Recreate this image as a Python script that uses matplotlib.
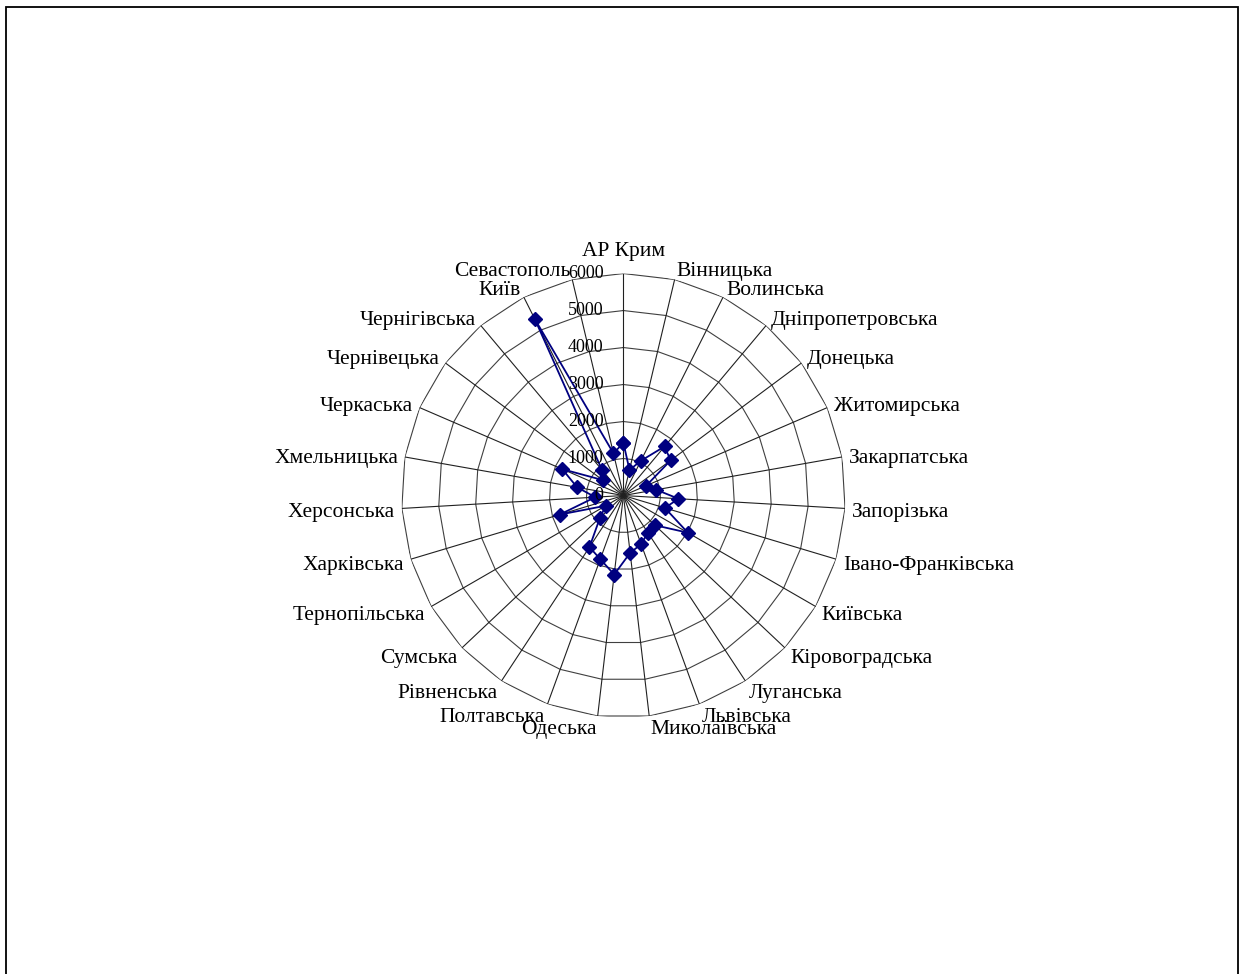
import numpy as np
import matplotlib
matplotlib.use('Agg')
import matplotlib.pyplot as plt
from matplotlib.patches import Rectangle

# categories (regions), clockwise from top
regions = ['АР Крим', 'Вінницька', 'Волинська', 'Дніпропетровська', 'Донецька',
           'Житомирська', 'Закарпатська', 'Запорізька', 'Івано-Франківська',
           'Київська', 'Кіровоградська', 'Луганська', 'Львівська', 'Миколаївська',
           'Одеська', 'Полтавська', 'Рівненська', 'Сумська', 'Тернопільська',
           'Харківська', 'Херсонська', 'Хмельницька', 'Черкаська', 'Чернівецька',
           'Чернігівська', 'Київ', 'Севастополь']

# values
values = [1420, 710, 1050, 1730, 1590, 670, 900, 1490, 1170, 2010, 1170, 1200,
          1400, 1560, 2150, 1830, 1670, 870, 550, 1800, 760, 1270, 1800, 700,
          900, 5340, 1175]

rings = [0, 1000, 2000, 3000, 4000, 5000, 6000]

catfont = {'family': 'Liberation Serif', 'size': 15.5}
numfont = {'family': 'Liberation Serif', 'size': 13}

fig = plt.figure(figsize=(12.46, 9.74), dpi=100)
fig.patch.set_facecolor('white')
# chart area border
fig.add_artist(Rectangle((6/1246, -0.02), 1232/1246, 1 - 7/974 + 0.02,
                         transform=fig.transFigure, fill=False,
                         edgecolor='black', linewidth=1.3))

ax = fig.add_axes([0.3222, 0.2633, 0.3563, 0.4559], projection='polar')
ax.set_theta_zero_location('N')
ax.set_theta_direction(-1)
ax.set_ylim(0, 6000)
ax.grid(False)
ax.spines['polar'].set_visible(False)
ax.set_xticks([])
ax.set_yticks([])

n = len(regions)
theta = np.arange(n) * 2 * np.pi / n
theta_closed = np.append(theta, theta[0])

# polygon grid (straight segments)
for r in rings[1:]:
    ax.plot(theta_closed, [r] * (n + 1), color='#404040', linewidth=0.8, zorder=1)
for t in theta:
    ax.plot([t, t], [0, rings[-1]], color='#202020', linewidth=0.8, zorder=1)

# data
vals_closed = values + values[:1]
ax.plot(theta_closed, vals_closed, color='#000080', linewidth=1.3,
        marker='D', markersize=7, markerfacecolor='#000080',
        markeredgecolor='#000080', zorder=3, clip_on=False)

# category labels
for i, (t, name) in enumerate(zip(theta, regions)):
    s, c = np.sin(t), np.cos(t)
    if abs(s) < 0.05:
        ha = 'center'
    elif s > 0:
        ha = 'left'
    else:
        ha = 'right'
    dy = 11 * c - 3
    if i == 0:
        dy = 22
    ax.annotate(name, xy=(t, rings[-1]), xytext=(7 * s, dy),
                textcoords='offset pixels', ha=ha, va='center',
                annotation_clip=False, **catfont)

# radial axis labels
for r in rings:
    ax.annotate(str(r), xy=(0, r), xytext=(-20, 0), textcoords='offset pixels',
                ha='right', va='center', annotation_clip=False, zorder=5, **numfont)

plt.savefig('out.png', dpi=100)
